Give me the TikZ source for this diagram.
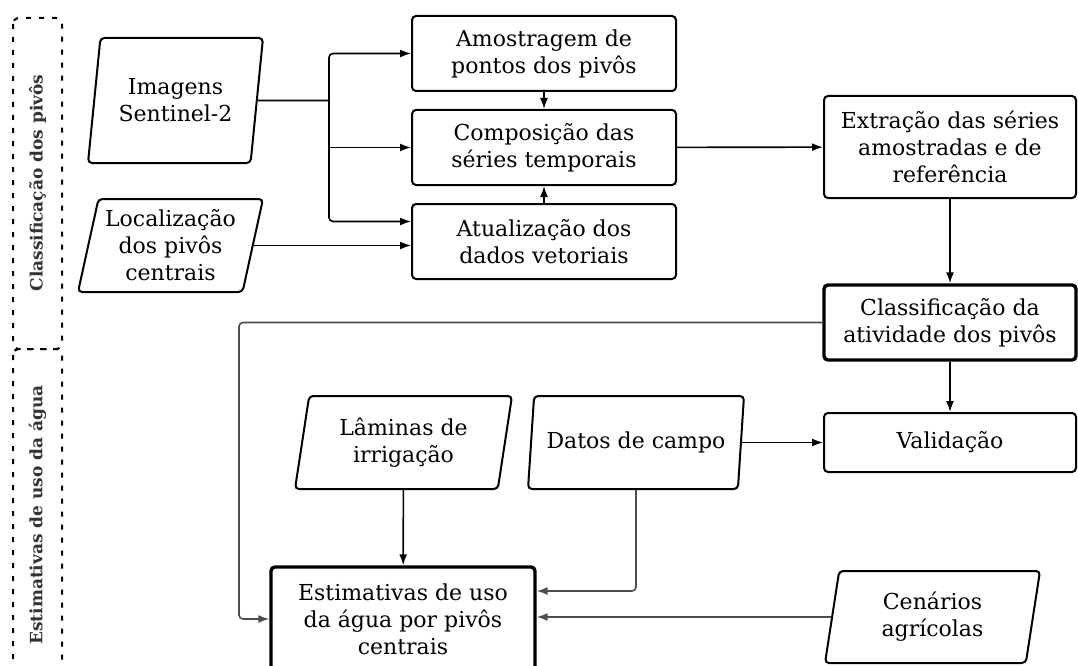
\documentclass[tikz,border=0pt]{standalone}
\usepackage{fontspec}
\setmainfont{DejaVu Serif}
\usepackage{tikz}
\usetikzlibrary{shapes.geometric,arrows.meta,positioning}

\begin{document}
\begin{tikzpicture}[x=1pt,y=-1pt,font=\fontsize{22}{27}\selectfont,
	proc/.style={draw,rectangle,rounded corners=4pt,line width=2pt,minimum width=264pt,minimum height=75pt,inner sep=2pt,align=center},
	procmain/.style={proc,line width=3.4pt},
	dado/.style={draw,trapezium,trapezium left angle=74,trapezium right angle=106,trapezium stretches body,rounded corners=4pt,line width=2pt,inner sep=0pt,align=center},
	linha/.style={line width=1.6pt},
	seta/.style={linha,-{Latex[length=11pt,width=8pt]}},
	setacinza/.style={seta,draw=black!70},
	fase/.style={draw=black,line width=2pt,dash pattern=on 5pt off 8pt,rounded corners=6pt},
	rotulo/.style={rotate=90,font=\fontsize{17}{19}\selectfont\bfseries,text=black!80}]
	\useasboundingbox (0,0) rectangle (1078,666);
	\draw[fase] (13,18) rectangle (62,349);
	\draw[fase] (13,349) rectangle (62,700);
	\node[rotulo] (fase1) at (37.5,183) {Classificação dos pivôs};
	\node[rotulo] (fase2) at (37.5,515) {Estimativas de uso da água};
	\node[dado,minimum width=175pt,minimum height=125pt] (img) at (175.5,100.5) {Imagens\\Sentinel-2};
	\node[dado,minimum width=185pt,minimum height=93pt] (loc) at (170.5,245.5) {Localização\\dos pivôs\\centrais};
	\node[proc] (amo) at (544,53.5) {Amostragem de\\pontos dos pivôs};
	\node[proc] (com) at (544,147.5) {Composição das\\séries temporais};
	\node[proc] (atu) at (544,241.5) {Atualização dos\\dados vetoriais};
	\node[proc,minimum width=252pt,minimum height=102pt] (ext) at (950,147) {Extração das séries\\amostradas e de\\referência};
	\node[procmain,minimum width=252pt] (cla) at (950,322.5) {Classificação da\\atividade dos pivôs};
	\node[proc,minimum width=252pt,minimum height=59pt] (val) at (950,442.5) {Validação};
	\node[dado,minimum width=217pt,minimum height=93pt] (lam) at (403.5,442.5) {Lâminas de\\irrigação};
	\node[dado,minimum width=216pt,minimum height=93pt] (dat) at (636,442.5) {\makebox[150pt]{Datos de campo}};
	\node[procmain,minimum height=104pt] (est) at (403,619) {Estimativas de uso\\da água por pivôs\\centrais};
	\node[dado,minimum width=215pt,minimum height=92pt] (cen) at (932.5,617) {Cenários\\agrícolas};
	\coordinate (ramo) at (329,100.5);
	\coordinate (desvio) at (239,322.5);
	\draw[linha] (img.east) -- (ramo);
	\draw[seta,rounded corners=4pt] (ramo) |- (amo.west);
	\draw[seta,rounded corners=4pt] (ramo) |- ([yshift=20pt]atu.west);
	\draw[seta] (ramo |- com.west) -- (com.west);
	\draw[seta] (loc.east) -- (loc.east -| atu.west);
	\draw[seta] (amo) -- (com);
	\draw[seta] (atu) -- (com);
	\draw[seta] (com) -- (ext);
	\draw[seta] (ext) -- (cla);
	\draw[seta] (cla) -- (val);
	\draw[seta] (dat.east) -- (dat.east -| val.west);
	\draw[seta] (lam) -- (est);
	\draw[setacinza,rounded corners=4pt] (cla.west) -- (desvio) |- (est.west);
	\draw[setacinza,rounded corners=4pt] (dat.south) |- ([yshift=28pt]est.east);
	\draw[setacinza] (cen.west) -- (cen.west -| est.east);
\end{tikzpicture}
\end{document}
